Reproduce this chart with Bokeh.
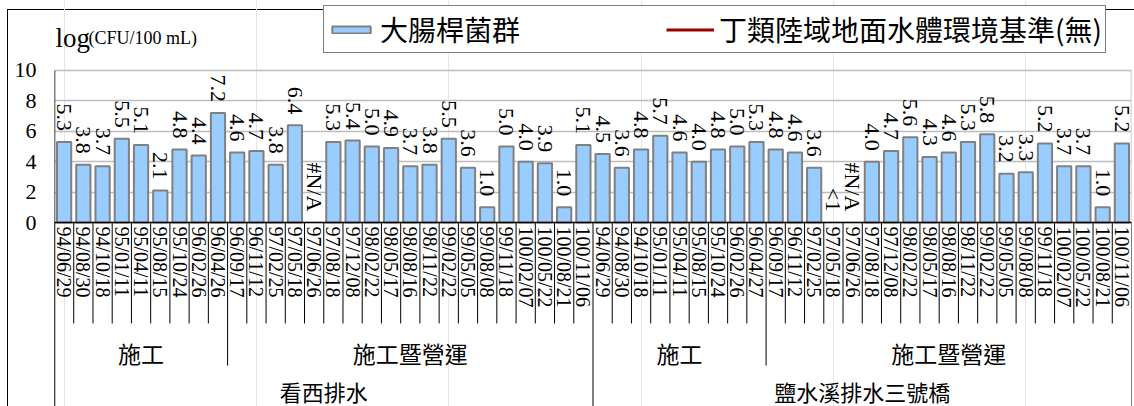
import numpy as np
from bokeh.plotting import figure
from bokeh.models import Range1d, FixedTicker, Legend, LegendItem, Label, ColumnDataSource
from bokeh.core.properties import value
from bokeh.embed import file_html
from bokeh.resources import INLINE

# ---------------- data ----------------
sites = ["看西排水", "鹽水溪排水三號橋"]
phases = ["施工", "施工暨營運"]
phase_sizes = [9, 19]

dates_site1 = ["94/06/29", "94/08/30", "94/10/18", "95/01/11", "95/04/11", "95/08/15", "95/10/24",
               "96/02/26", "96/04/26",
               "96/09/17", "96/11/12", "97/02/25", "97/05/18", "97/06/26", "97/08/18", "97/12/08",
               "98/02/22", "98/05/17", "98/08/16", "98/11/22", "99/02/22", "99/05/05", "99/08/08",
               "99/11/18", "100/02/07", "100/05/22", "100/08/21", "100/11/06"]
dates_site2 = ["94/06/29", "94/08/30", "94/10/18", "95/01/11", "95/04/11", "95/08/15", "95/10/24",
               "96/02/26", "96/04/27",
               "96/09/17", "96/11/12", "97/02/25", "97/05/18", "97/06/26", "97/08/18", "97/12/08",
               "98/02/22", "98/05/17", "98/08/16", "98/11/22", "99/02/22", "99/05/05", "99/08/08",
               "99/11/18", "100/02/07", "100/05/22", "100/08/21", "100/11/06"]

labels_site1 = ["5.3", "3.8", "3.7", "5.5", "5.1", "2.1", "4.8", "4.4", "7.2",
                "4.6", "4.7", "3.8", "6.4", "#N/A", "5.3", "5.4", "5.0", "4.9", "3.7",
                "3.8", "5.5", "3.6", "1.0", "5.0", "4.0", "3.9", "1.0", "5.1"]
labels_site2 = ["4.5", "3.6", "4.8", "5.7", "4.6", "4.0", "4.8", "5.0", "5.3",
                "4.8", "4.6", "3.6", "<1", "#N/A", "4.0", "4.7", "5.6", "4.3", "4.6",
                "5.3", "5.8", "3.2", "3.3", "5.2", "3.7", "3.7", "1.0", "5.2"]

y_ticks = [0, 2, 4, 6, 8, 10]
series_name = "大腸桿菌群"
standard_name = "丁類陸域地面水體環境基準(無)"

# ---------------- derived ----------------
dates = dates_site1 + dates_site2
labels = labels_site1 + labels_site2
vals = [float(s) if s[0].isdigit() else 0.0 for s in labels]
n = len(dates)
xs = np.arange(n)

Y_MIN, Y_MAX = -12.1, 14.6
Y_TICKLINE = -6.64
Y_PHASELINE = -9.41
Y_PHASE_TEXT = -8.55
Y_SITE_TEXT = -11.05

p = figure(width=1134, height=406, x_range=Range1d(-0.5, n - 0.5), y_range=Range1d(Y_MIN, Y_MAX),
           output_backend="svg", toolbar_location=None, x_axis_location=None,
           min_border_left=54, min_border_right=3, min_border_top=0, min_border_bottom=0)
p.outline_line_color = None
p.background_fill_alpha = 0
p.border_fill_alpha = 0
p.styles = {
    "background-color": "white",
    "background-image": "linear-gradient(#000,#000), linear-gradient(#000,#000)",
    "background-size": "1px 100%, 100% 1px",
    "background-position": "7px 9px, 7px 9px",
    "background-repeat": "no-repeat",
}

yaxis = p.yaxis[0]
yaxis.ticker = FixedTicker(ticks=y_ticks)
yaxis.major_tick_out = 0
yaxis.major_tick_in = 0
yaxis.minor_tick_out = 0
yaxis.minor_tick_in = 0
yaxis.axis_line_color = None
yaxis.major_label_text_font = "Liberation Serif"
yaxis.major_label_text_font_size = "22px"
yaxis.major_label_text_color = "black"
yaxis.major_label_standoff = 18
p.ygrid.grid_line_color = "#BDBDBD"
p.ygrid.grid_line_width = 1.5

# bars
bar_idx = [i for i in range(n) if vals[i] > 0]
bsrc = ColumnDataSource(dict(x=[int(xs[i]) for i in bar_idx], top=[vals[i] for i in bar_idx]))
bars = p.vbar(x="x", top="top", bottom=0, width=0.74, source=bsrc,
              fill_color="#99CCFF", line_color="#808080", line_width=2)
# environmental standard: none (無) -> no values to draw, legend entry only
std_line = p.line(x=[-0.5, n - 0.5], y=[np.nan, np.nan], line_color="#990000", line_width=3)

# plot area right border
p.segment(x0=[n - 0.5], y0=[0], x1=[n - 0.5], y1=[max(y_ticks)], line_color="#BDBDBD", line_width=1.5)

# x axis line
p.segment(x0=[-0.5], y0=[0], x1=[n - 0.5], y1=[0], line_color="black", line_width=1.5)
# y axis line (down through the category area)
p.segment(x0=[-0.5], y0=[Y_MIN], x1=[-0.5], y1=[max(y_ticks)], line_color="black", line_width=1.5)

# data labels
lsrc = ColumnDataSource(dict(x=xs, y=vals, t=labels))
p.text(x="x", y="y", text="t", source=lsrc, angle=-np.pi / 2, text_align="right",
       text_baseline="middle", y_offset=-11, text_font=value("Liberation Serif"),
       text_font_size="22px", text_color="black")

# category tick lines
site_edges = set()
phase_edges = set()
k = 0
for s in sites:
    site_edges.add(k)
    for sz in phase_sizes:
        phase_edges.add(k)
        k += sz
site_edges.add(k)
phase_edges.add(k)
edges = np.arange(n + 1)
y_ends = [Y_MIN if e in site_edges else (Y_PHASELINE if e in phase_edges else Y_TICKLINE) for e in edges]
p.segment(x0=edges - 0.5, y0=[0] * (n + 1), x1=edges - 0.5, y1=y_ends, line_color="black", line_width=1)

# date labels
dsrc = ColumnDataSource(dict(x=xs, y=[0] * n, t=dates))
p.text(x="x", y="y", text="t", source=dsrc, angle=-np.pi / 2, text_align="left",
       text_baseline="middle", y_offset=4, text_font=value("Liberation Serif"),
       text_font_size="20px", text_color="black")

# phase and site labels
ph_x, ph_t, st_x, st_t = [], [], [], []
k = 0
for s in sites:
    s0 = k
    for ph, sz in zip(phases, phase_sizes):
        ph_x.append(k + sz / 2 - 0.5)
        ph_t.append(ph)
        k += sz
    st_x.append((s0 + k) / 2 - 0.5)
    st_t.append(s)
p.text(x=ph_x, y=[Y_PHASE_TEXT] * len(ph_x), text=ph_t, text_align="center", text_baseline="middle",
       text_font=value("Noto Sans CJK TC"), text_font_size="23px", text_color="black")
p.text(x=st_x, y=[Y_SITE_TEXT] * len(st_x), text=st_t, text_align="center", text_baseline="middle",
       text_font=value("Noto Sans CJK TC"), text_font_size="22px", text_color="black")

# y axis title
p.add_layout(Label(x=-0.5, y=max(y_ticks), x_offset=1, y_offset=32, text="log",
                   text_font="Liberation Serif", text_font_size="27px", text_baseline="alphabetic",
                   text_color="black"))
p.add_layout(Label(x=-0.5, y=max(y_ticks), x_offset=34, y_offset=32, text="(CFU/100 mL)",
                   text_font="Liberation Serif", text_font_size="18px", text_baseline="alphabetic",
                   text_color="black"))

# legend
legend = Legend(items=[LegendItem(label=series_name, renderers=[bars]),
                       LegendItem(label=standard_name, renderers=[std_line])],
                orientation="horizontal", location=(269, 353),
                border_line_color="black", border_line_width=1, background_fill_color="white",
                background_fill_alpha=1, padding=3, spacing=146, glyph_width=48, glyph_height=9,
                label_standoff=5, label_text_font="Noto Sans CJK TC", label_text_font_size="28px",
                label_text_color="black", margin=0)
p.add_layout(legend)

open("out.html", "w").write(file_html(p, INLINE))
